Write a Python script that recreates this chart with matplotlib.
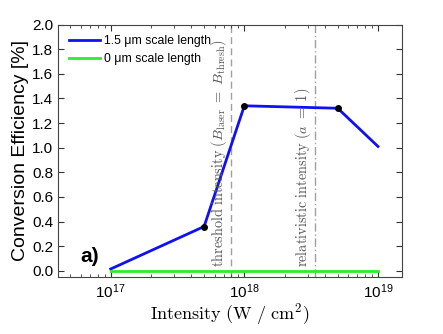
import numpy as np
import matplotlib
matplotlib.use("Agg")
from matplotlib import pyplot as plt
from matplotlib.ticker import LogLocator, MultipleLocator, NullFormatter, FormatStrFormatter

# Data
intensity = [1e17, 5e17, 1e18, 5e18, 1e19]
eff_15um = [0.015, 0.36, 1.34, 1.32, 1.01]
marker_x = [5e17, 1e18, 5e18]
marker_y = [0.36, 1.34, 1.32]
intensity_0um = [1e17, 1e19]
eff_0um = [0.0, 0.0]
threshold_I = 8e17
relativistic_I = 3.4e18

plt.rcParams["mathtext.fontset"] = "cm"
plt.rcParams["font.family"] = ["Liberation Sans", "DejaVu Sans"]

fig = plt.figure(figsize=(4.43, 3.34), dpi=100)
ax = fig.add_axes([57.5 / 443, 1 - 277 / 334, (401.5 - 57.5) / 443, (277 - 24.5) / 334])

ax.plot(intensity, eff_15um, color="#1010f4", lw=2, label="1.5 \u03bcm scale length", zorder=3)
ax.plot(intensity_0um, eff_0um, color="#2aee2a", lw=2, label="0 \u03bcm scale length", zorder=3)
ax.plot(marker_x, marker_y, "o", color="black", ms=4, zorder=4)

ax.axvline(threshold_I, color="#a0a0a0", lw=1, ls=(0, (5, 3)), zorder=1)
ax.axvline(relativistic_I, color="#a0a0a0", lw=1, ls=(0, (6, 2, 1, 2)), zorder=1)

ax.text(threshold_I * 0.965, 0.03,
        r"$\mathrm{threshold\ intensity}\ (B_{\mathrm{laser}}\ =\ B_{\mathrm{thresh}})$",
        rotation=90, ha="right", va="bottom", color="#555555", fontsize=10.3)
ax.text(relativistic_I * 0.965, 0.03, r"$\mathrm{relativistic\ intensity}\ (a\ =\ 1)$",
        rotation=90, ha="right", va="bottom", color="#555555", fontsize=10.3)

ax.text(7e16, 0.12, "a)", fontsize=15, fontweight="bold", ha="center", va="center")

ax.set_xscale("log")
ax.set_xlim(4e16, 1.5e19)
ax.set_ylim(-0.05, 2.0)
ax.set_xticks([1e17, 1e18, 1e19])
ax.xaxis.set_minor_locator(LogLocator(base=10, subs=np.arange(2, 10)))
ax.xaxis.set_minor_formatter(NullFormatter())
ax.yaxis.set_major_locator(MultipleLocator(0.2))
ax.yaxis.set_major_formatter(FormatStrFormatter("%.1f"))

ax.tick_params(which="both", direction="in", top=True, right=True, labelsize=11, color="#333333")
ax.tick_params(which="major", length=4)
ax.tick_params(which="minor", length=2)
ax.tick_params(axis="x", pad=4)
ax.tick_params(axis="y", pad=3)
for s in ax.spines.values():
    s.set_color("#444444")

ax.set_ylabel("Conversion Efficiency [%]", fontsize=14, labelpad=2)
ax.set_xlabel(r"$\mathrm{Intensity\ (W\ /\ cm^2)}$", fontsize=13, labelpad=0)

ax.legend(loc="upper left", frameon=False, fontsize=8.8, handlelength=2.6, handletextpad=0.3,
          borderaxespad=0.6, labelspacing=0.45, borderpad=0.3)

fig.savefig("out.png", dpi=100)
